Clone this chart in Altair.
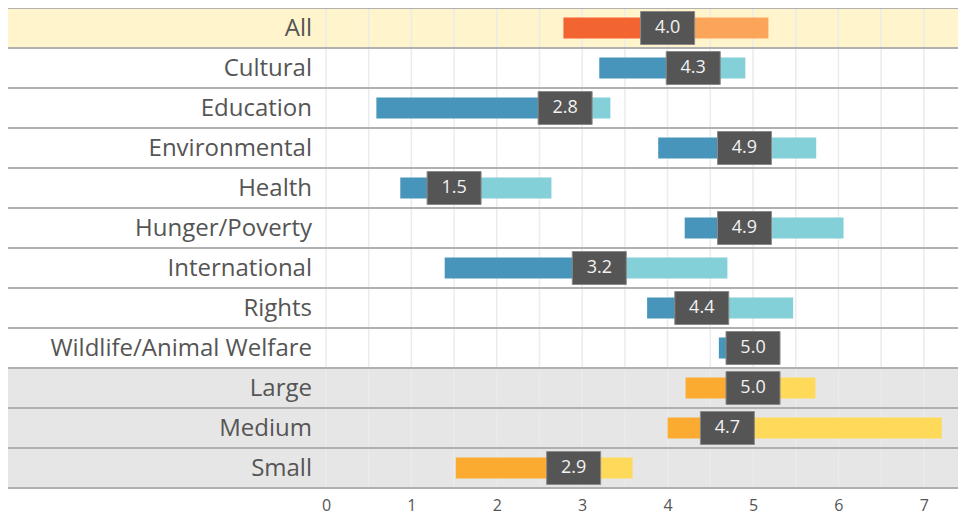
import altair as alt
import pandas as pd

categories = ["All", "Cultural", "Education", "Environmental", "Health",
              "Hunger/Poverty", "International", "Rights",
              "Wildlife/Animal Welfare", "Large", "Medium", "Small"]
groups = ["all", "cause", "cause", "cause", "cause", "cause", "cause",
          "cause", "cause", "size", "size", "size"]
low = [2.78, 3.20, 0.59, 3.89, 0.87, 4.20, 1.39, 3.76, 4.60, 4.21, 4.00, 1.52]
median = [4.0, 4.3, 2.8, 4.9, 1.5, 4.9, 3.2, 4.4, 5.0, 5.0, 4.7, 2.9]
high = [5.18, 4.91, 3.33, 5.74, 2.64, 6.06, 4.70, 5.47, 5.05, 5.73, 7.21, 3.59]
grid_values = [i / 2 for i in range(0, 15)]
tick_values = [0, 1, 2, 3, 4, 5, 6, 7]

df = pd.DataFrame({
    "cat": categories, "group": groups, "low": low,
    "median": median, "high": high, "row": list(range(len(categories))),
})
grid_df = pd.DataFrame({"g": grid_values})
sep_df = pd.DataFrame({"b": list(range(len(categories) + 1))})

W, H = 950, 480
FONT = "Open Sans"
xscale = alt.Scale(domain=[-3.723, 7.4], nice=False, zero=False)
yscale = alt.Scale(domain=[0, len(categories)], reverse=True, nice=False, zero=False)
group_dom = ["all", "cause", "size"]

base = alt.Chart(df).transform_calculate(row_end="datum.row + 1", row_mid="datum.row + 0.5")

bg = base.mark_rect().encode(
    x=alt.value(0), x2=alt.value(W),
    y=alt.Y("row:Q", scale=yscale, axis=None), y2="row_end:Q",
    color=alt.Color("group:N", scale=alt.Scale(domain=group_dom,
                    range=["#FFF4CC", "#FFFFFF", "#E6E6E6"]), legend=None),
)

grid = alt.Chart(grid_df).mark_rule(color="#EBEBEB", strokeWidth=1.5).encode(
    x=alt.X("g:Q", scale=xscale,
            axis=alt.Axis(values=tick_values, format="d", title=None, grid=False,
                          domain=False, ticks=False, labelFontSize=16,
                          labelColor="#555555", labelFont=FONT, labelPadding=9)),
    y=alt.value(0), y2=alt.value(H),
)

seps = alt.Chart(sep_df).mark_rule(color="#B0B0B0", strokeWidth=2).encode(
    y=alt.Y("b:Q", scale=yscale, axis=None),
    x=alt.value(0), x2=alt.value(W),
)

low_bar = base.mark_rect(yOffset=9.5, y2Offset=-9.5).encode(
    x=alt.X("low:Q", scale=xscale), x2="median:Q",
    y=alt.Y("row:Q", scale=yscale, axis=None), y2="row_end:Q",
    color=alt.Color("group:N", scale=alt.Scale(domain=group_dom,
                    range=["#F26430", "#4795BB", "#FBAB30"]), legend=None),
)

high_bar = base.mark_rect(yOffset=9.5, y2Offset=-9.5).encode(
    x=alt.X("median:Q", scale=xscale), x2="high:Q",
    y=alt.Y("row:Q", scale=yscale, axis=None), y2="row_end:Q",
    color=alt.Color("group:N", scale=alt.Scale(domain=group_dom,
                    range=["#FBA55A", "#84D0D8", "#FFD95A"]), legend=None),
)

box = base.mark_rect(xOffset=-27, x2Offset=27, yOffset=3.5, y2Offset=-3.5,
                     fill="#555555", stroke="#8A8A8A", strokeWidth=1).encode(
    x=alt.X("median:Q", scale=xscale), x2="median:Q",
    y=alt.Y("row:Q", scale=yscale, axis=None), y2="row_end:Q",
)

box_text = base.mark_text(font=FONT, fontSize=18, color="#F2F2F2",
                          align="center", baseline="middle").encode(
    x=alt.X("median:Q", scale=xscale),
    y=alt.Y("row_mid:Q", scale=yscale, axis=None),
    text=alt.Text("median:Q", format=".1f"),
)

labels = base.mark_text(font=FONT, fontSize=24, color="#555555",
                        align="right", baseline="middle", dy=1).encode(
    x=alt.value(304),
    y=alt.Y("row_mid:Q", scale=yscale, axis=None),
    text="cat:N",
)

chart = alt.layer(bg, grid, seps, low_bar, high_bar, box, box_text, labels).resolve_scale(
    color="independent"
).properties(
    width=W, height=H,
    autosize=alt.AutoSizeParams(type="none"),
    padding={"left": 0, "top": 0, "right": 0, "bottom": 26},
).configure_view(strokeWidth=0)

chart.save("out.html", embed_options={"renderer": "svg", "actions": False})
